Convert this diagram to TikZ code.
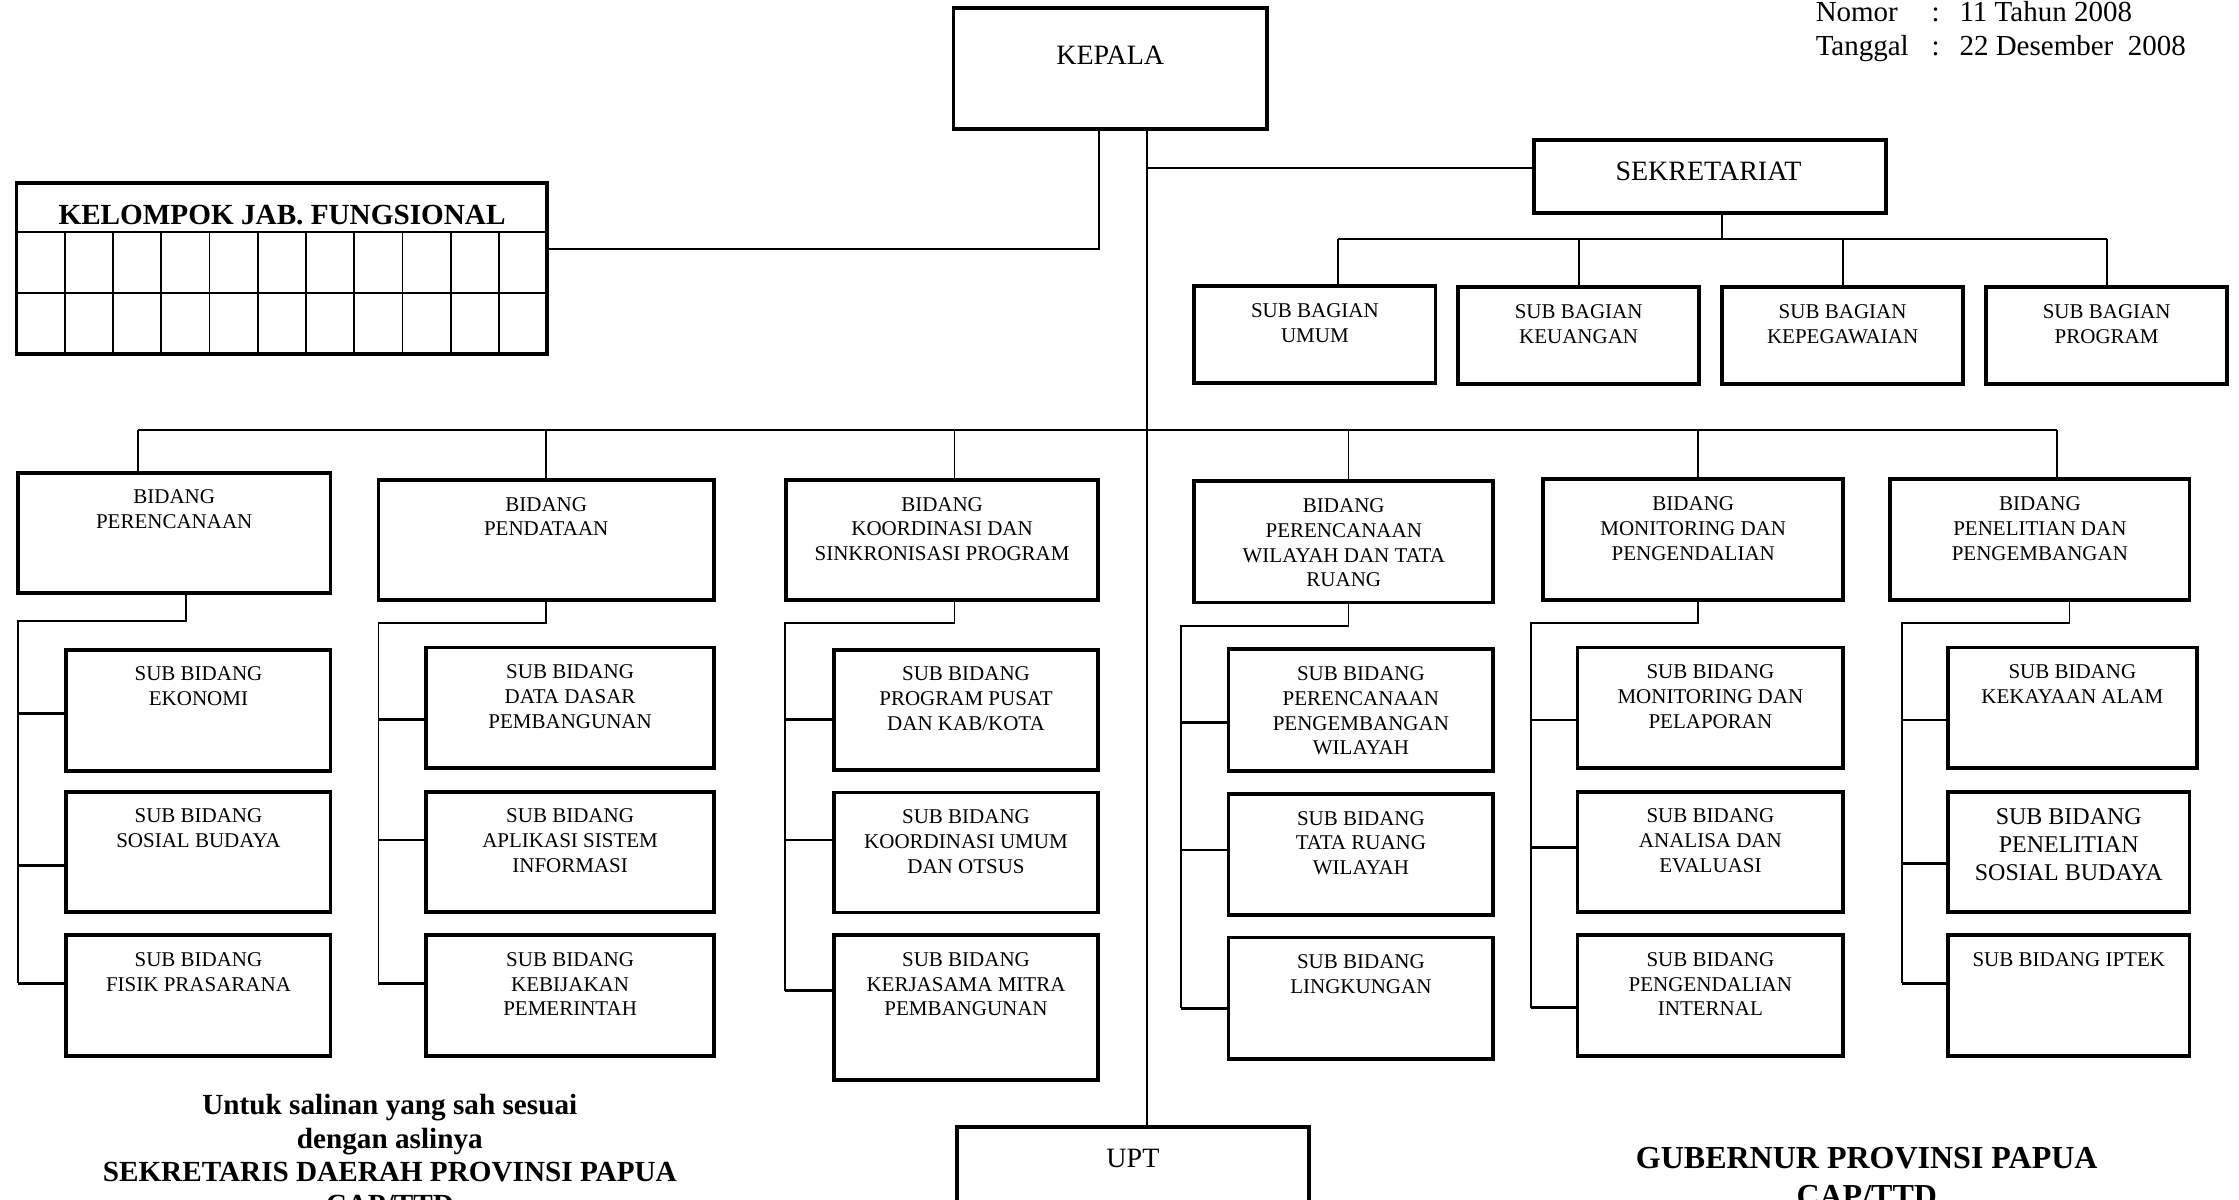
\documentclass[tikz,border=0pt]{standalone}
\usepackage{fontspec}
\setmainfont{Liberation Serif}
\usetikzlibrary{fit,calc}
\newcommand\obox[7][]{%
  \node[box, fit={(#3,#4) (#5,#6)}] (#2) {};
  \node[txt,#1] (#2-t) at ($(#2.north)+(0,13.2)$) {#7};}
\begin{document}
\begin{tikzpicture}[x=0.714pt,y=-0.714pt,
  box/.style={draw, line width=1.9pt, inner sep=0pt},
  conn/.style={line width=0.9pt},
  branch/.style={line width=1.3pt},
  txt/.style={font=\fontsize{10.5}{12.4}\selectfont, align=center, inner sep=0pt, anchor=north},
  bigt/.style={font=\fontsize{14}{16}\selectfont, inner sep=0pt, anchor=base},
  hdr/.style={font=\fontsize{14.5}{16}\selectfont, inner sep=0pt, anchor=base west},
  boldt/.style={font=\bfseries\fontsize{14.6}{16.6}\selectfont, inner sep=0pt, anchor=base},
  boldg/.style={font=\bfseries\fontsize{16}{18}\selectfont, inner sep=0pt, anchor=base},
]
\useasboundingbox (0,0) rectangle (1568,840);
\clip (0,0) rectangle (1568,840);

% header text
\node[hdr] (nomor)  at (1271.3,15.2) {Nomor};
\node[hdr] (nomorc) at (1352.5,15.2) {:};
\node[hdr] (nomorv) at (1372,15.2) {11 Tahun 2008};
\node[hdr] (tgl)    at (1271.3,38.7) {Tanggal};
\node[hdr] (tglc)   at (1352.5,38.7) {:};
\node[hdr] (tglv)   at (1372,38.7) {22 Desember\ \ 2008};

% KEPALA
\node[box, fit={(667.8,5.8) (887.3,90.6)}] (kepala) {};
\node[bigt] (kepala-t) at (777.5,44.9) {KEPALA};

% SEKRETARIAT
\node[box, fit={(1074,98) (1320.6,149.4)}] (sek) {};
\node[bigt] (sek-t) at (1196.5,126.6) {SEKRETARIAT};

\obox{umum}{836.4}{200.5}{1005.3}{268.4}{SUB BAGIAN\\UMUM}
\obox{keu}{1021.1}{201.2}{1190}{269.2}{SUB BAGIAN\\KEUANGAN}
\obox{kep}{1206.2}{201.2}{1374.6}{269.2}{SUB BAGIAN\\KEPEGAWAIAN}
\obox{prog}{1390.9}{201.2}{1559.7}{269.2}{SUB BAGIAN\\PROGRAM}

% KELOMPOK JAB. FUNGSIONAL
\node[box, fit={(11.6,128.4) (383.3,247.9)}] (kel) {};
\node[font=\bfseries\fontsize{14.6}{16}\selectfont, inner sep=0pt, anchor=base] (kel-t) at (197.5,157.4) {KELOMPOK JAB. FUNGSIONAL};
\draw[line width=1.1pt] (kel.west |- 0,162.7) -- (kel.east |- 0,162.7);
\draw[line width=1.1pt] (kel.west |- 0,205) -- (kel.east |- 0,205);
\foreach \i in {1,...,10} \draw[line width=0.9pt] ({11.6+33.79*\i},162.7) -- ({11.6+33.79*\i},247.9);

% BIDANG
\obox{b1}{12.5}{331}{231.5}{415.5}{BIDANG\\PERENCANAAN}
\obox{b2}{265}{336}{500}{420}{BIDANG\\PENDATAAN}
\obox{b3}{550.5}{336}{769}{420}{BIDANG\\KOORDINASI DAN\\SINKRONISASI PROGRAM}
\obox{b4}{836.3}{337}{1045.8}{422}{BIDANG\\PERENCANAAN\\WILAYAH DAN TATA\\RUANG}
\obox{b5}{1080.8}{335.7}{1290.8}{420.2}{BIDANG\\MONITORING DAN\\PENGENDALIAN}
\obox{b6}{1323.8}{335.7}{1533.3}{420.2}{BIDANG\\PENELITIAN DAN\\PENGEMBANGAN}

% SUB BIDANG
\obox{s11}{46.5}{455}{231.5}{540}{SUB BIDANG\\EKONOMI}
\obox{s12}{46.5}{554.4}{231.5}{638.9}{SUB BIDANG\\SOSIAL BUDAYA}
\obox{s13}{46.5}{654.8}{231.5}{739.5}{SUB BIDANG\\FISIK PRASARANA}

\obox{s21}{298.5}{453.5}{500}{538}{SUB BIDANG\\DATA DASAR\\PEMBANGUNAN}
\obox{s22}{298.5}{554.4}{500}{638.9}{SUB BIDANG\\APLIKASI SISTEM\\INFORMASI}
\obox{s23}{298.5}{654.8}{500}{739.5}{SUB BIDANG\\KEBIJAKAN\\PEMERINTAH}

\obox{s31}{584}{455}{769}{539}{SUB BIDANG\\PROGRAM PUSAT\\DAN KAB/KOTA}
\obox{s32}{584}{555}{769}{639}{SUB BIDANG\\KOORDINASI UMUM\\DAN OTSUS}
\obox{s33}{584}{654.8}{769}{756.3}{SUB BIDANG\\KERJASAMA MITRA\\PEMBANGUNAN}

\obox{s41}{860.3}{454.7}{1045.8}{539.7}{SUB BIDANG\\PERENCANAAN\\PENGEMBANGAN\\WILAYAH}
\obox{s42}{860.3}{556}{1045.8}{640.8}{SUB BIDANG\\TATA RUANG\\WILAYAH}
\obox{s43}{860.3}{656.6}{1045.8}{741.4}{SUB BIDANG\\LINGKUNGAN}

\obox{s51}{1104.8}{453.5}{1290.8}{538}{SUB BIDANG\\MONITORING DAN\\PELAPORAN}
\obox{s52}{1104.8}{554.4}{1290.8}{638.9}{SUB BIDANG\\ANALISA DAN\\EVALUASI}
\obox{s53}{1104.8}{654.8}{1290.8}{739.5}{SUB BIDANG\\PENGENDALIAN\\INTERNAL}

\obox{s61}{1364.3}{453.5}{1538.3}{538}{SUB BIDANG\\KEKAYAAN ALAM}
\obox[font=\fontsize{12}{13.8}\selectfont]{s62}{1364.3}{554.4}{1533.3}{638.9}{SUB BIDANG\\PENELITIAN\\SOSIAL BUDAYA}
\obox{s63}{1364.3}{654.8}{1533.3}{739.5}{SUB BIDANG IPTEK}

% UPT
\node[box, fit={(670,789.2) (916.8,900)}] (upt) {};
\node[bigt] (upt-t) at (793.4,817.8) {UPT};

% connectors: top part
\draw[conn] (803,0 |- kepala.south) -- (803,0 |- upt.north);
\draw[conn] (769.5,0 |- kepala.south) -- (769.5,174.6) -- (kel.east |- 0,174.6);
\draw[conn] (803,117.4) -- (sek.west |- 0,117.4);
\draw[conn] (1206.2,0 |- sek.south) -- (1206.2,167.6);
\draw[conn] (937.1,167.6) -- (1475.3,167.6);
\draw[conn] (937.1,167.6) -- (937.1,0 |- umum.north);
\draw[conn] (keu.north |- 0,167.6) -- (keu.north);
\draw[conn] (kep.north |- 0,167.6) -- (kep.north);
\draw[conn] (prog.north |- 0,167.6) -- (prog.north);

% main bus to BIDANG
\draw[conn] (96.5,301) -- (1440.8,301);
\draw[conn] (96.5,301) -- (96.5,0 |- b1.north);
\draw[conn] (b2.north |- 0,301) -- (b2.north);
\draw[conn] (668.5,301) -- (668.5,0 |- b3.north);
\draw[conn] (944.3,301) -- (944.3,0 |- b4.north);
\draw[conn] (1189.3,301) -- (1189.3,0 |- b5.north);
\draw[conn] (1440.8,301) -- (1440.8,0 |- b6.north);

% column 1
\draw[conn] (130.5,0 |- b1.south) -- (130.5,435) -- (12.5,435) -- (12.5,688.6);
\draw[branch] (12.5,499.5) -- (s11.west |- 0,499.5);
\draw[branch] (12.5,606) -- (s12.west |- 0,606);
\draw[branch] (12.5,688.6) -- (s13.west |- 0,688.6);
% column 2
\draw[conn] (382.5,0 |- b2.south) -- (382.5,436.5) -- (265,436.5) -- (265,688.6);
\draw[branch] (265,503.7) -- (s21.west |- 0,503.7);
\draw[branch] (265,588.2) -- (s22.west |- 0,588.2);
\draw[branch] (265,688.6) -- (s23.west |- 0,688.6);
% column 3
\draw[conn] (668.5,0 |- b3.south) -- (668.5,436.5) -- (549.5,436.5) -- (549.5,693.8);
\draw[branch] (549.5,503.7) -- (s31.west |- 0,503.7);
\draw[branch] (549.5,588.2) -- (s32.west |- 0,588.2);
\draw[branch] (549.5,693.8) -- (s33.west |- 0,693.8);
% column 4
\draw[conn] (944.3,0 |- b4.south) -- (944.3,438.4) -- (827.3,438.4) -- (827.3,706.1);
\draw[branch] (827.3,505.8) -- (s41.west |- 0,505.8);
\draw[branch] (827.3,595.2) -- (s42.west |- 0,595.2);
\draw[branch] (827.3,706.1) -- (s43.west |- 0,706.1);
% column 5
\draw[conn] (1189.3,0 |- b5.south) -- (1189.3,436.5) -- (1072.3,436.5) -- (1072.3,705.6);
\draw[branch] (1072.3,504.2) -- (s51.west |- 0,504.2);
\draw[branch] (1072.3,593.4) -- (s52.west |- 0,593.4);
\draw[branch] (1072.3,705.6) -- (s53.west |- 0,705.6);
% column 6
\draw[conn] (1449.3,0 |- b6.south) -- (1449.3,436.5) -- (1331.8,436.5) -- (1331.8,688.6);
\draw[branch] (1331.8,504.2) -- (s61.west |- 0,504.2);
\draw[branch] (1331.8,604.6) -- (s62.west |- 0,604.6);
\draw[branch] (1331.8,688.6) -- (s63.west |- 0,688.6);

% bottom texts
\node[boldt] (sah1) at (273,780.7) {Untuk salinan yang sah sesuai};
\node[boldt] (sah2) at (273,804) {dengan aslinya};
\node[boldt] (sah3) at (273,827.3) {SEKRETARIS DAERAH PROVINSI PAPUA};
\node[boldt] (sah4) at (273,850.6) {CAP/TTD};
\node[boldg] (gub1) at (1307.3,818.6) {GUBERNUR PROVINSI PAPUA};
\node[boldg] (gub2) at (1307.3,844.6) {CAP/TTD};
\end{tikzpicture}
\end{document}
